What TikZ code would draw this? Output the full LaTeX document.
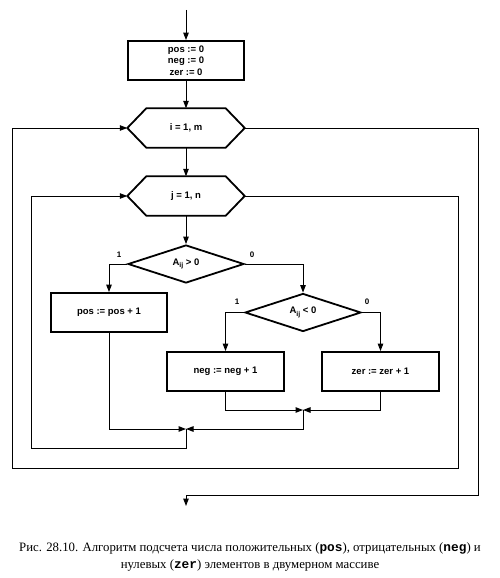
\documentclass[tikz,border=0pt]{standalone}
\usepackage{fontspec}
\setmainfont{Liberation Serif}
\newfontfamily\arial{Liberation Sans}
\newfontfamily\cour{Liberation Mono}
\usetikzlibrary{arrows.meta,shapes.geometric}
\newcommand\ijsub{\raisebox{-0.5ex}{\fontsize{7}{8}\selectfont ij}}
\begin{document}
\begin{tikzpicture}[x=1pt,y=-1pt,
  blk/.style={draw,line width=1.8pt,minimum width=116pt,minimum height=39pt,inner sep=0pt,
    font=\arial\bfseries\fontsize{9.5}{11.7}\selectfont,align=center},
  hexbox/.style={minimum width=117pt,minimum height=39pt,inner sep=0pt,
    font=\arial\bfseries\fontsize{9.5}{11.7}\selectfont},
  hexline/.style={line width=1.8pt,line join=miter},
  dia/.style={diamond,draw,line width=1.8pt,minimum width=116pt,minimum height=38pt,inner sep=0pt,
    font=\arial\bfseries\fontsize{9.5}{11.7}\selectfont},
  line/.style={line width=1pt},
  arr/.style={line,-{Triangle[length=7.5pt,width=5.5pt]}},
  lbl/.style={font=\arial\bfseries\fontsize{8}{9}\selectfont,inner sep=0pt}
]
\useasboundingbox (0,0) rectangle (500,578);
% nodes
\coordinate (start) at (186,10);
\node[blk] (init) at (186,60.5) {pos := 0\\neg := 0\\zer := 0};
\node[hexbox] (hi) at (186,128) {i = 1, m};
\node[hexbox] (hj) at (186,196) {j = 1, n};
\node[dia] (d1) at (186,264) {A\ijsub{} > 0};
\node[blk] (pos) at (109,312.5) {pos := pos + 1};
\node[dia] (d2) at (303,312.5) {A\ijsub{} < 0};
\node[blk,minimum width=117pt] (neg) at (225.5,371.5) {neg := neg + 1};
\node[blk,minimum width=117pt] (zer) at (380.5,371.5) {zer := zer + 1};
\coordinate (j1) at (303,410);
\coordinate (j2) at (186,429);
\coordinate (lj) at (31,448);
\coordinate (rjb) at (458,468);
\coordinate (lib) at (12,468);
\coordinate (rib) at (478,495);
\coordinate (end) at (186,506);
% hexagons
\foreach \h in {hi,hj}{
  \draw[hexline] (\h.west) -- ([xshift=19pt]\h.north west) -- ([xshift=-19pt]\h.north east)
    -- (\h.east) -- ([xshift=-19pt]\h.south east) -- ([xshift=19pt]\h.south west) -- cycle;
}
% labels
\node[lbl] (l1a) at (119,255) {1};
\node[lbl] (l0a) at (252,255) {0};
\node[lbl] (l1b) at (237,302) {1};
\node[lbl] (l0b) at (367,302) {0};
% connectors
\draw[arr] (start) -- (init);
\draw[arr] (init) -- (hi);
\draw[arr] (hi.south) -- (hj.north);
\draw[arr] (hj.south) -- (d1.north);
\draw[arr] (d1.west) -| (pos.north);
\draw[arr] (d1.east) -| (d2.north);
\draw[arr] (d2.west) -| (neg.north);
\draw[arr] (d2.east) -| (zer.north);
\draw[arr] (neg.south) |- (j1);
\draw[arr] (zer.south) |- (j1);
\draw[arr] (j1) |- (j2);
\draw[arr] (pos.south) |- (j2);
\draw[arr] (j2) |- (lj) |- (hj.west);
\draw[arr] (hj.east) -| (rjb) -- (lib) |- (hi.west);
\draw[arr] (hi.east) -| (rib) -| (end);
% caption
\node[font=\fontsize{12.8}{16.5}\selectfont,align=center] (cap) at (250,557)
  {Рис. 28.10. Алгоритм подсчета числа положительных ({\cour\bfseries pos}), отрицательных ({\cour\bfseries neg}) и\\
   нулевых ({\cour\bfseries zer}) элементов в двумерном массиве};
\end{tikzpicture}
\end{document}
